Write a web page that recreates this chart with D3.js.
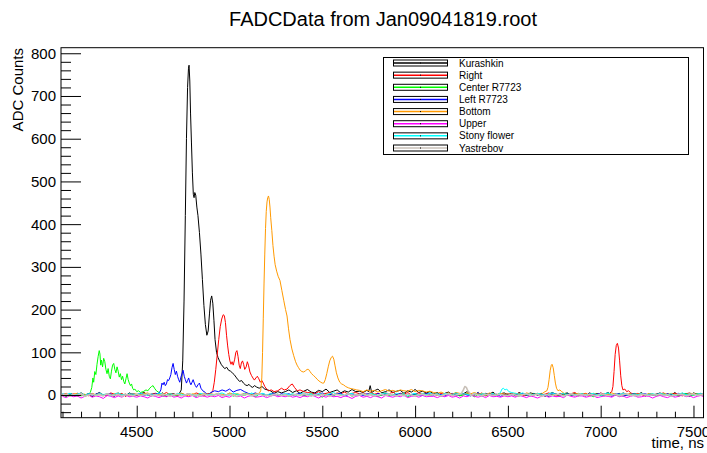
<!DOCTYPE html>
<html>
<head>
<meta charset="utf-8">
<script src="https://cdn.jsdelivr.net/npm/d3@7"></script>
<style>
  body { margin: 0; background: #fff; }
  text { font-family: "Liberation Sans", Arial, Helvetica, sans-serif; }
</style>
</head>
<body>
<div class="chart"></div>
<script>
var seriesNames = ["Kurashkin", "Right", "Center R7723", "Left R7723", "Bottom", "Upper", "Stony flower", "Yastrebov"];
var seriesColors = ["#000000", "#ff0000", "#00ff00", "#0000ff", "#ff9900", "#ff00ff", "#00ffff", "#c8c0b8"];
var xTicks = [4500, 5000, 5500, 6000, 6500, 7000, 7500];
var yTicks = [0, 100, 200, 300, 400, 500, 600, 700, 800];

// baseline noise, one value every 20 ns from 4100 ns
var noiseStart = 4100, noiseStep = 20;

var kurashkinNoise = [
  2,-3,4,1,-2,5,0,3,-4,2,6,-1,3,0,-3,4,2,-2,5,1,
  -1,3,6,0,-2,4,1,5,-3,2,3,-1,4,2,0,5,1,-2,3,6,
  4,1,5,2,6,3,7,2,5,8,4,6,3,7,5,9,6,4,8,5,
  8,12,6,10,4,9,13,7,5,11,8,14,6,9,12,5,10,7,13,8,
  9,6,11,7,10,14,5,8,12,6,9,11,4,10,7,13,6,9,5,8,
  3,6,-2,4,7,1,5,-1,3,8,2,0,6,-3,4,2,7,-1,3,5,
  1,4,-2,6,2,-1,5,3,0,4,-3,2,6,1,-2,3,5,0,4,-1,
  3,-2,5,1,4,-1,2,6,0,3,-3,5,2,-1,4,1,6,-2,3,0,
  2,5,-1,3,0,6,-2,4,1,-3,5,2,0,4,-1,3,6,1,-2,2];
var rightNoise = [
  1,4,-2,3,0,5,-3,2,4,-1,3,1,-2,5,2,0,4,-3,2,3,
  0,2,5,-1,3,4,-2,1,6,0,2,-3,4,1,3,-1,5,2,-2,3,
  4,2,6,1,3,5,0,4,2,-1,3,5,1,4,0,6,2,3,-1,4,
  5,3,7,2,4,6,1,5,3,8,2,4,6,1,5,3,7,2,4,6,
  3,5,1,6,2,4,0,5,3,7,1,4,2,6,0,3,5,1,4,2,
  2,-1,4,1,3,-2,5,0,2,4,-1,3,1,5,-2,2,4,0,3,1,
  -1,3,1,5,-2,2,4,0,3,-1,2,5,1,-3,4,2,0,3,6,1,
  2,4,-1,3,0,5,2,-2,4,1,3,-1,5,2,0,4,1,-2,3,2,
  0,3,5,-1,2,4,1,-2,3,5,0,2,4,-1,3,1,5,2,-1,3];
var centerNoise = [
  0,-3,2,-1,3,-2,1,4,-4,0,2,-1,3,0,-2,4,1,-3,2,0,
  1,-2,3,0,-1,4,2,-3,1,3,-2,0,4,-1,2,1,-3,3,0,2,
  -2,1,3,-1,0,4,-3,2,1,-1,3,0,-4,2,1,-2,3,0,2,-1,
  1,-3,2,0,4,-2,1,3,-1,0,-5,2,1,-2,3,0,-1,4,-3,1,
  0,2,-2,3,1,-3,0,4,-1,2,-2,1,3,-4,0,2,-1,3,1,-2,
  2,0,-3,1,4,-1,2,-2,0,3,1,-4,2,0,-1,3,-2,1,4,0,
  -1,2,0,-3,3,1,-2,4,0,-1,2,-3,1,3,-2,0,4,-1,1,-2,
  3,-1,1,-4,2,0,-2,3,1,-1,4,-3,0,2,-2,1,3,-1,0,2,
  -2,1,3,0,-1,2,-3,1,4,-2,0,3,-1,2,-4,1,0,3,-2,1];
var leftNoise = [
  2,0,3,-1,4,1,-2,3,0,2,5,-1,1,3,-2,4,0,2,-1,3,
  1,4,-1,2,0,3,5,-2,1,3,0,2,4,-1,3,1,-2,2,4,0,
  6,10,8,12,9,14,7,11,13,8,4,2,5,1,3,0,2,4,-1,3,
  1,3,-1,2,4,0,2,-2,3,1,5,-1,2,0,3,4,-2,1,3,0,
  2,-1,3,1,-2,4,0,2,3,-1,1,4,-2,2,0,3,1,-1,4,2,
  0,3,1,-2,2,4,-1,1,3,0,-2,2,5,-1,1,3,0,2,-3,1,
  3,0,2,-1,4,1,-2,3,0,2,1,-3,4,2,0,-1,3,1,-2,2,
  1,-2,3,0,2,4,-1,1,-3,2,3,0,-1,4,1,-2,2,3,0,-1,
  2,1,-1,3,0,-2,4,1,2,-1,3,0,2,-3,1,4,0,2,-1,1];
var bottomNoise = [
  1,3,-1,2,4,0,2,-2,3,1,4,0,2,-1,3,5,1,2,-2,3,
  2,0,3,5,-1,2,1,4,0,3,-1,2,4,1,-2,3,2,0,4,1,
  3,1,4,2,0,5,2,3,1,4,2,0,3,5,1,2,4,1,3,2,
  6,8,5,9,7,10,6,8,11,7,9,12,8,10,13,9,11,8,12,10,
  10,8,12,9,11,7,10,13,9,11,8,12,10,9,13,8,11,10,7,9,
  6,4,7,3,5,2,6,4,1,5,3,6,2,4,0,5,3,1,4,2,
  3,1,4,2,0,5,3,1,4,2,6,3,1,4,2,5,0,3,2,4,
  1,3,0,4,2,-1,3,1,5,2,0,3,1,4,-1,2,3,0,4,1,
  2,0,3,1,4,-1,2,3,0,2,4,1,-1,3,2,0,4,1,3,2];
var upperNoise = [
  -3,-6,-1,-4,-2,-7,-3,0,-5,-2,-4,-8,-1,-3,-6,-2,-5,0,-4,-3,
  -5,-2,-4,-7,-1,-3,-6,-2,-4,0,-5,-3,-7,-2,-4,-1,-6,-3,-2,-5,
  -2,-4,-1,-6,-3,-5,0,-4,-2,-7,-3,-1,-5,-4,-2,-6,-3,0,-4,-2,
  -4,-1,-5,-3,-6,-2,-4,0,-3,-7,-2,-5,-1,-4,-3,-6,-2,-4,-8,-3,
  -1,-5,-3,-6,-2,-4,-7,-1,-3,-5,-2,-4,0,-6,-3,-2,-5,-1,-4,-3,
  -3,-6,-2,-4,-1,-5,-3,-7,-2,-4,0,-3,-5,-2,-6,-1,-4,-3,-5,-2,
  -4,-2,-5,-1,-3,-6,-2,-4,-7,-3,-1,-5,-2,-4,-3,-6,0,-3,-5,-2,
  -2,-5,-3,-1,-6,-4,-2,-3,-5,0,-4,-2,-6,-3,-1,-5,-4,-2,-3,-7,
  -3,-1,-4,-6,-2,-5,-3,0,-4,-2,-6,-3,-1,-5,-4,-2,-3,-6,-1,-4];
var stonyNoise = [
  3,1,4,0,2,5,-1,3,2,0,4,1,3,-2,2,5,1,0,3,2,
  1,4,2,-1,3,0,5,2,1,3,-1,4,2,0,3,1,-2,4,2,1,
  2,0,3,5,1,-1,4,2,0,3,1,5,-1,2,4,0,3,1,2,-1,
  4,1,3,0,2,5,1,3,-1,4,2,0,3,6,1,2,-1,3,4,0,
  2,3,0,4,1,-1,3,5,2,0,4,1,3,-2,2,4,0,3,1,5,
  1,3,-1,4,2,0,5,1,3,2,-1,4,0,3,2,1,4,-1,3,8,
  8,6,4,2,5,1,3,0,4,2,-1,3,5,1,2,4,0,3,1,2,
  3,0,2,4,1,-2,3,5,1,2,0,4,2,-1,3,1,4,0,2,3,
  1,4,2,0,3,-1,2,5,1,3,0,2,4,-1,3,2,0,4,1,2];
var yastrebovNoise = [
  0,2,-2,1,-1,3,-3,0,2,-1,1,-2,3,0,-1,2,-3,1,0,-2,
  2,-1,0,3,-2,1,-1,2,0,-3,1,2,-2,0,3,-1,1,-2,2,0,
  -1,1,3,-2,0,2,-1,-3,1,0,2,-2,1,3,-1,0,-2,2,1,-1,
  1,-2,0,2,-1,3,0,-2,1,-1,2,0,-3,1,2,-1,0,3,-2,1,
  0,3,-1,1,-2,0,2,-1,3,0,-2,1,-1,2,0,-3,1,2,-1,0,
  2,0,-2,1,3,-1,0,2,-2,1,-1,3,0,-2,2,1,-1,0,2,-1,
  -1,2,0,-2,1,3,-1,0,2,-3,1,0,-1,2,1,-2,0,3,-1,1,
  1,-1,2,0,-2,3,1,-1,0,2,-2,1,3,-1,0,-2,2,1,-1,0,
  0,2,-1,1,-3,0,2,1,-2,0,3,-1,1,0,-2,2,-1,1,3,0];

// pulses, [time ns, counts]
var kurashkinPulses = [
  [[4730,4],[4740,12],[4748,80],[4755,220],[4762,420],[4768,600],[4774,720],[4779,765],[4782,772],
   [4786,735],[4790,660],[4795,590],[4800,520],[4805,470],[4809,462],[4813,474],[4818,468],[4824,440],
   [4830,420],[4838,380],[4846,330],[4854,270],[4862,210],[4870,165],[4878,140],[4885,150],[4892,190],
   [4898,222],[4904,232],[4910,215],[4916,175],[4922,130],[4930,100],[4938,88],[4946,80],[4955,72],
   [4965,66],[4975,62],[4985,65],[4995,58],[5005,56],[5015,52],[5025,48],[5035,42],[5045,36],[5055,32],
   [5065,34],[5075,28],[5085,24],[5095,22],[5105,25],[5115,20],[5125,18],[5135,22],[5145,19],[5160,16],
   [5175,20],[5190,14],[5205,12],[5220,10]],
  [[5750,8],[5758,22],[5766,6]]];
var rightPulses = [
  [[4900,4],[4910,10],[4918,30],[4926,60],[4934,95],[4942,130],[4950,160],[4958,178],[4966,188],
   [4972,186],[4978,170],[4984,140],[4990,115],[4996,95],[5002,80],[5008,72],[5014,78],[5020,70],
   [5028,84],[5034,100],[5040,104],[5046,90],[5052,70],[5058,62],[5064,75],[5070,80],[5076,72],
   [5082,60],[5090,66],[5096,78],[5102,70],[5110,54],[5118,46],[5126,40],[5134,35],[5142,40],
   [5150,44],[5158,38],[5166,30],[5174,34],[5182,28],[5190,20],[5200,14],[5210,10],[5225,12],
   [5240,8],[5260,10],[5280,16],[5295,12],[5310,14],[5325,22],[5338,26],[5350,18],[5365,10],
   [5380,12],[5400,8],[5420,6]],
  [[7050,5],[7060,8],[7066,20],[7072,55],[7078,95],[7084,116],[7090,121],[7096,110],[7102,80],
   [7108,45],[7114,22],[7120,12],[7130,14],[7140,8],[7150,10],[7160,6]]];
var centerPulses = [
  [[4240,2],[4250,6],[4258,18],[4264,40],[4268,30],[4274,55],[4280,48],[4286,72],[4292,90],[4298,104],
   [4302,96],[4306,70],[4310,82],[4316,66],[4322,86],[4328,78],[4334,60],[4340,50],[4346,62],[4352,44],
   [4358,38],[4364,56],[4370,70],[4376,74],[4382,60],[4388,52],[4394,66],[4400,56],[4406,42],[4412,50],
   [4418,36],[4424,44],[4430,32],[4436,26],[4442,38],[4448,50],[4454,36],[4460,28],[4466,22],[4472,26],
   [4478,16],[4484,12],[4490,14],[4500,8],[4510,10],[4520,6],[4535,8],[4550,12],[4560,10],[4570,16],
   [4580,20],[4588,22],[4596,16],[4606,10],[4620,6]]];
var leftPulses = [
  [[4620,4],[4630,12],[4636,28],[4642,24],[4648,30],[4654,22],[4660,26],[4666,36],[4672,34],[4678,40],
   [4684,48],[4690,64],[4696,74],[4702,60],[4708,48],[4714,56],[4720,44],[4726,36],[4732,30],[4738,42],
   [4744,50],[4750,58],[4756,44],[4762,36],[4768,28],[4774,34],[4780,40],[4786,30],[4792,24],[4798,30],
   [4804,36],[4810,28],[4816,22],[4822,18],[4830,24],[4838,28],[4846,16],[4856,10],[4870,6]]];
var bottomPulses = [
  [[5160,4],[5168,10],[5174,40],[5178,100],[5182,180],[5186,260],[5190,330],[5194,390],[5198,430],
   [5202,452],[5206,462],[5210,466],[5214,458],[5218,440],[5222,415],[5228,385],[5234,350],[5240,325],
   [5246,305],[5254,290],[5262,278],[5272,268],[5282,245],[5292,222],[5302,200],[5310,185],[5318,155],
   [5326,130],[5336,108],[5346,92],[5356,78],[5364,70],[5372,64],[5381,58],[5390,55],[5400,54],
   [5410,57],[5418,60],[5426,60],[5434,55],[5442,50],[5452,46],[5462,42],[5472,37],[5482,33],[5492,30],
   [5500,28],[5508,28],[5516,36],[5524,50],[5532,66],[5540,80],[5548,88],[5555,91],[5562,84],[5568,70],
   [5576,52],[5584,40],[5594,30],[5604,26],[5614,24],[5626,20],[5640,17],[5655,15],[5668,14],[5685,12],
   [5700,11]],
  [[6700,8],[6710,10],[6716,18],[6722,36],[6728,58],[6734,70],[6738,72],[6744,64],[6750,46],[6756,28],
   [6762,16],[6770,10],[6780,12],[6790,8]]];
var upperPulses = [];
var stonyPulses = [
  [[6460,6],[6468,14],[6476,16],[6484,12],[6494,14],[6505,8]]];
var yastrebovPulses = [
  [[6250,4],[6260,12],[6268,20],[6276,18],[6284,10],[6295,4]]];

var allNoise = [kurashkinNoise, rightNoise, centerNoise, leftNoise, bottomNoise, upperNoise, stonyNoise, yastrebovNoise];
var allPulses = [kurashkinPulses, rightPulses, centerPulses, leftPulses, bottomPulses, upperPulses, stonyPulses, yastrebovPulses];

function buildSeries(noise, pulses) {
  var pts = [];
  noise.forEach(function(v, i) {
    var t = noiseStart + i * noiseStep;
    var inside = pulses.some(function(p) {
      return t >= p[0][0] && t <= p[p.length - 1][0];
    });
    if (!inside) pts.push([t, v]);
  });
  pulses.forEach(function(p) { pts = pts.concat(p); });
  pts.sort(function(a, b) { return a[0] - b[0]; });
  return pts;
}

var W = 707, H = 453,
    frame = {left: 61, right: 703.5, top: 47.7, bottom: 417.7};

var svg = d3.select(".chart")
  .append("svg")
    .attr("width", W)
    .attr("height", H);

var x = d3.scaleLinear()
    .domain([4092, 7554])
    .range([frame.left, frame.right]);

var y = d3.scaleLinear()
    .domain([-53, 813])
    .range([frame.bottom, frame.top]);

svg.append("clipPath")
    .attr("id", "clip")
  .append("rect")
    .attr("x", frame.left)
    .attr("y", frame.top)
    .attr("width", frame.right - frame.left)
    .attr("height", frame.bottom - frame.top);

// title
svg.append("text")
    .attr("x", 383)
    .attr("y", 26)
    .attr("text-anchor", "middle")
    .attr("font-size", "20px")
    .attr("fill", "#000")
    .text("FADCData from Jan09041819.root");

// histograms
var line = d3.line()
    .x(function(d) { return x(d[0]); })
    .y(function(d) { return y(d[1]); });

var plot = svg.append("g").attr("clip-path", "url(#clip)");

seriesNames.forEach(function(name, i) {
  plot.append("path")
      .datum(buildSeries(allNoise[i], allPulses[i]))
      .attr("fill", "none")
      .attr("stroke", seriesColors[i])
      .attr("stroke-width", name == "Yastrebov" ? 1.6 : 1)
      .attr("stroke-linejoin", "round")
      .attr("d", line);
});

// frame
svg.append("rect")
    .attr("x", frame.left)
    .attr("y", frame.top)
    .attr("width", frame.right - frame.left)
    .attr("height", frame.bottom - frame.top)
    .attr("fill", "none")
    .attr("stroke", "#000")
    .attr("stroke-width", 1);

// x axis ticks (inside, ROOT style)
var xaxis = d3.axisTop(x)
    .tickValues(d3.range(4100, 7600, 100))
    .tickSize(6)
    .tickFormat("");

var gx = svg.append("g")
    .attr("transform", "translate(0," + frame.bottom + ")")
    .call(xaxis);
gx.select(".domain").remove();
gx.selectAll(".tick line")
    .attr("y2", function(d) { return d % 500 == 0 ? -12 : -6; })
    .attr("stroke", "#000");

svg.selectAll(".xlab")
    .data(xTicks)
    .enter()
    .append("text")
    .attr("class", "xlab")
    .attr("x", function(d) { return x(d); })
    .attr("y", 437)
    .attr("text-anchor", "middle")
    .attr("font-size", "15px")
    .text(function(d) { return d; });

svg.append("text")
    .attr("x", 704)
    .attr("y", 448)
    .attr("text-anchor", "end")
    .attr("font-size", "15px")
    .text("time, ns");

// y axis ticks
var yaxis = d3.axisRight(y)
    .tickValues(d3.range(-40, 820, 20))
    .tickSize(10)
    .tickFormat("");

var gy = svg.append("g")
    .attr("transform", "translate(" + frame.left + ",0)")
    .call(yaxis);
gy.select(".domain").remove();
gy.selectAll(".tick line")
    .attr("x2", function(d) { return d % 100 == 0 ? 20 : 10; })
    .attr("stroke", "#000");

svg.selectAll(".ylab")
    .data(yTicks)
    .enter()
    .append("text")
    .attr("class", "ylab")
    .attr("x", 56)
    .attr("y", function(d) { return y(d); })
    .attr("dy", "0.36em")
    .attr("text-anchor", "end")
    .attr("font-size", "15px")
    .text(function(d) { return d; });

svg.append("text")
    .attr("transform", "translate(23,48) rotate(-90)")
    .attr("text-anchor", "end")
    .attr("font-size", "15px")
    .text("ADC Counts");

// legend
var legend = svg.append("g");

legend.append("rect")
    .attr("x", 383.5)
    .attr("y", 57.5)
    .attr("width", 305)
    .attr("height", 97)
    .attr("fill", "#fff")
    .attr("stroke", "#000")
    .attr("stroke-width", 1);

var rowY = d3.scaleLinear()
    .domain([0, 7])
    .range([63, 148]);

var entry = legend.selectAll(".entry")
    .data(seriesNames)
    .enter()
    .append("g")
    .attr("class", "entry")
    .attr("transform", function(d, i) { return "translate(0," + rowY(i) + ")"; });

entry.append("rect")
    .attr("x", 393.5)
    .attr("y", -3)
    .attr("width", 54)
    .attr("height", 6)
    .attr("fill", "#fff")
    .attr("stroke", "#000")
    .attr("stroke-width", 1);

entry.append("line")
    .attr("x1", 394)
    .attr("x2", 447)
    .attr("y1", 0)
    .attr("y2", 0)
    .attr("stroke", function(d, i) { return seriesColors[i]; })
    .attr("stroke-width", 1.5);

entry.append("rect")
    .attr("x", 420)
    .attr("y", -0.5)
    .attr("width", 1)
    .attr("height", 1)
    .attr("fill", "#000");

entry.append("text")
    .attr("x", 459)
    .attr("y", 0)
    .attr("dy", "0.36em")
    .attr("font-size", "10px")
    .text(function(d) { return d; });
</script>
</body>
</html>
